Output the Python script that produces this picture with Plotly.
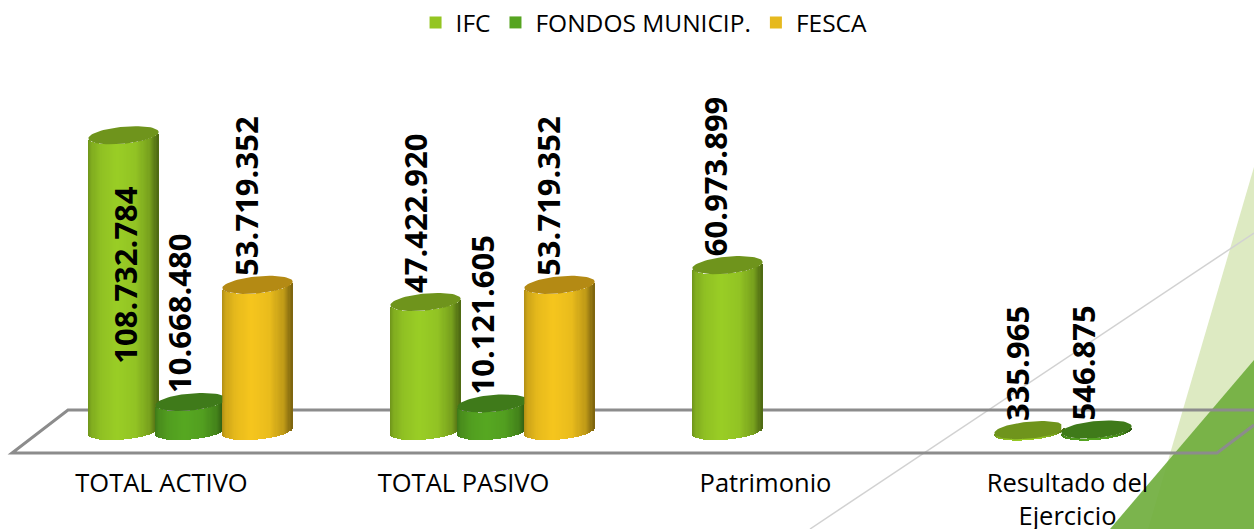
import numpy as np
import plotly.graph_objects as go

# ---------- data ----------
categories = ["TOTAL ACTIVO", "TOTAL PASIVO", "Patrimonio", "Resultado del<br>Ejercicio"]
ifc = [108732784, 47422920, 60973899, 335965]
fondos = [10668480, 10121605, None, 546875]
fesca = [53719352, 53719352, None, None]
series_names = ["IFC", "FONDOS MUNICIP.", "FESCA"]
series_values = [ifc, fondos, fesca]

def fmt(v):
    return f"{v:,}".replace(",", ".")

# ---------- styling / layout constants ----------
W, H = 1254, 529
MARGIN_B = 64
PX_X0, PX_PER_CAT = 190.5, 302.0      # pixel of category 0 centre, pixels per category
PX_Y0, PX_PER_UNIT = 431.0, 2.72e-6   # pixel of value zero, pixels per unit
OFFSET_PX = [-67.0, 0.0, 67.0]
RADIUS_PX, CAP_B_PX, TILT = 35.2, 8.5, 0.09
N_STRIPS = 60
FONT = "Open Sans"
legend_colors = ["#94C522", "#56A421", "#E6B91E"]
side_colors = [(0x9A, 0xCE, 0x26), (0x57, 0xA8, 0x22), (0xF6, 0xC6, 0x1E)]
cap_colors = ["#6F941C", "#3F7A1A", "#B48A14"]
shade_pos = [0.0, 0.06, 0.2, 0.42, 0.68, 0.88, 1.0]
shade_val = [0.72, 0.84, 0.94, 1.0, 0.95, 0.78, 0.50]

dx = lambda px: px / PX_PER_CAT
dy = lambda px: px / PX_PER_UNIT
x_range = [dx(0 - PX_X0), dx(W - PX_X0)]
y_range = [dy(PX_Y0 - (H - MARGIN_B)), dy(PX_Y0 - 0)]
paper_x = lambda px: px / W
paper_y = lambda py: 1 - py / (H - MARGIN_B)

fig = go.Figure()

# cylinder sides: vertical strips whose height is the value
for s, vals in enumerate(series_values):
    for k in range(N_STRIPS):
        u = -1 + (2 * k + 1) / N_STRIPS
        shade = np.interp((u + 1) / 2, shade_pos, shade_val)
        r, g, b = [int(c * shade) for c in side_colors[s]]
        arc_px = CAP_B_PX * np.sqrt(max(0, 1 - u * u)) - TILT * RADIUS_PX * u
        fig.add_bar(
            x=[i + dx(OFFSET_PX[s] + u * RADIUS_PX) for i in range(len(categories))],
            y=vals,
            base=-dy(arc_px),
            width=dx(2 * RADIUS_PX / N_STRIPS * 1.5),
            marker=dict(color=f"rgb({r},{g},{b})", line_width=0),
            showlegend=False,
            hoverinfo="skip",
        )

# cylinder caps
t = np.linspace(0, 2 * np.pi, 73)
for s, vals in enumerate(series_values):
    xs, ys = [], []
    for i, v in enumerate(vals):
        if v is None:
            continue
        px = RADIUS_PX * np.cos(t)
        py = CAP_B_PX * np.sin(t) - TILT * px
        nxt = series_values[s + 1][i] if s < 2 else None
        if nxt is not None and nxt > v:
            px = np.minimum(px, OFFSET_PX[s + 1] - OFFSET_PX[s] - RADIUS_PX)
        xs += list(i + dx(OFFSET_PX[s] + px)) + [None]
        ys += list(v - dy(py)) + [None]
    fig.add_scatter(
        x=xs, y=ys, mode="lines", fill="toself", fillcolor=cap_colors[s],
        line=dict(width=0, color=cap_colors[s]), showlegend=False, hoverinfo="skip",
    )

# legend entries
for name, col in zip(series_names, legend_colors):
    fig.add_bar(x=[None], y=[None], name=name, marker=dict(color=col, line_width=0))

# value labels
annotations = []
for s, vals in enumerate(series_values):
    for i, v in enumerate(vals):
        if v is None:
            continue
        inside = v > 100000000
        annotations.append(dict(
            x=i + dx(OFFSET_PX[s] + (2 if inside else (-11 if i < 2 else -13))),
            y=v * 0.527 if inside else v + dy(9),
            xref="x", yref="y", text=fmt(v), textangle=-90, showarrow=False,
            xanchor="center", yanchor="middle" if inside else "bottom",
            font=dict(family=FONT, size=31, color="#000000", weight="bold"),
            borderpad=0, borderwidth=0,
        ))

# background decoration and floor
def poly(points, fill=None, line=None, width=0):
    path = "M" + "L".join(f"{paper_x(x)},{paper_y(y)}" for x, y in points)
    return dict(type="path", path=path, xref="paper", yref="paper", layer="below",
                fillcolor=fill if fill else "rgba(0,0,0,0)",
                line=dict(color=line if line else "rgba(0,0,0,0)", width=width))

shapes = [
    poly([(1254, 167), (1148, 529), (1254, 529)], fill="#DDEAC2"),
    poly([(1254, 360), (1110, 529), (1254, 529)], fill="rgba(112,174,62,0.92)"),
    poly([(810, 529), (1254, 233)], line="#D2D2D2", width=1.5),
    poly([(1254, 410), (68, 410), (12, 453), (1217, 453), (1254, 425)], line="#8C8C8C", width=3),
]

fig.update_layout(
    width=W, height=H, barmode="overlay", bargap=0,
    margin=dict(l=0, r=0, t=0, b=MARGIN_B, autoexpand=False),
    paper_bgcolor="#FFFFFF", plot_bgcolor="rgba(0,0,0,0)",
    font=dict(family=FONT, color="#000000"),
    showlegend=True,
    legend=dict(orientation="h", x=0.5136, xanchor="center", y=1.0, yanchor="top",
                font=dict(family=FONT, size=24.5), bgcolor="rgba(0,0,0,0)",
                itemsizing="constant"),
    annotations=annotations, shapes=shapes,
    xaxis=dict(range=x_range, showgrid=False, zeroline=False, showline=False,
               tickmode="array", tickvals=[i - dx(29) for i in range(len(categories))],
               ticktext=categories, ticks="", ticklen=0,
               tickangle=0, tickfont=dict(family=FONT, size=25.5, color="#000000")),
    yaxis=dict(range=y_range, visible=False),
)

fig.write_html("out.html", config={"displayModeBar": False},
               post_script="document.body.style.margin='0';document.body.style.overflow='hidden';")
